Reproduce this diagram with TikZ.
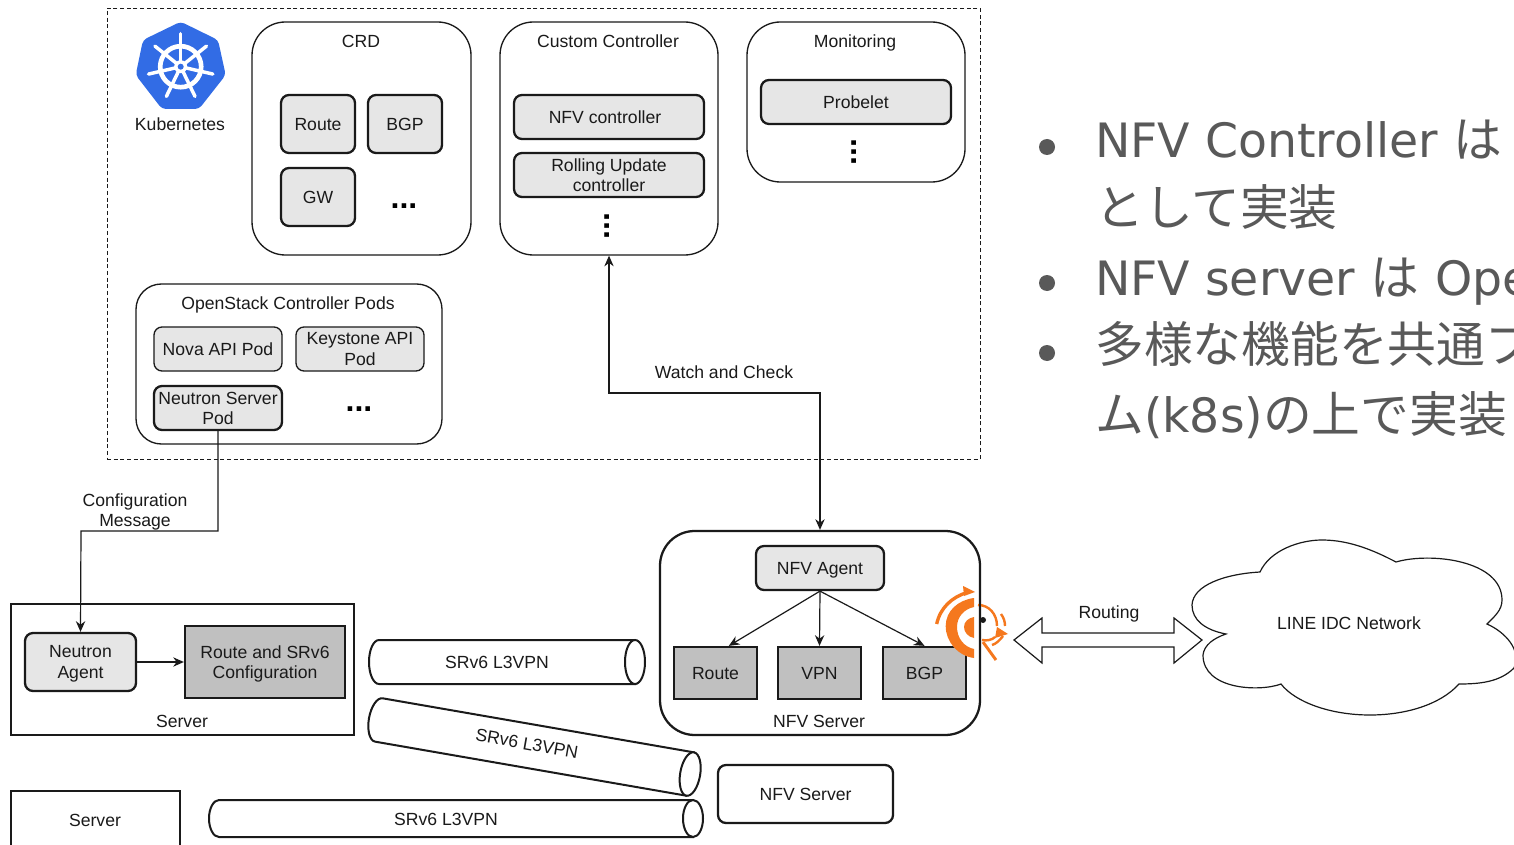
\documentclass[tikz,border=0pt]{standalone}
\usepackage{fontspec}
\usetikzlibrary{arrows.meta}
\setmainfont{Liberation Sans}
\newfontfamily\latinbig{DejaVu Sans}
\newfontfamily\cjkbig[Scale=1.03]{Noto Sans CJK JP}
\definecolor{lightfill}{HTML}{E6E6E6}
\definecolor{midfill}{HTML}{C0C0C0}
\definecolor{linecol}{HTML}{1A1A1A}
\definecolor{bodytext}{HTML}{595959}
\definecolor{kblue}{HTML}{326CE5}
\definecolor{falco}{HTML}{F5781E}
\def\u{0.75pt}
\tikzset{
  x=0.75pt,y=-0.75pt,
  every node/.style={font=\fontsize{13.2}{15.2}\selectfont,text=linecol,inner sep=0pt,align=center,text depth=0pt},
  panel/.style={draw=linecol,line width=1pt,fill=white,rounded corners=25pt},
  softbox/.style={draw=linecol,line width=1.7pt,fill=lightfill,rounded corners=6pt},
  thinsoft/.style={draw=linecol,line width=1pt,fill=lightfill,rounded corners=6pt},
  hardbox/.style={draw=linecol,line width=1.7pt,fill=midfill},
  plainbox/.style={draw=linecol,line width=0.8pt,fill=white},
  link/.style={draw=linecol,line width=0.9pt},
  arr/.style={link,-{Stealth[length=8pt,width=7pt]}},
  dbl/.style={link,{Stealth[length=8pt,width=7pt]}-{Stealth[length=8pt,width=7pt]}},
  pipe/.style={draw=linecol,line width=1.5pt,fill=white},
  dotsnode/.style={font=\fontsize{24}{24}\bfseries\selectfont,text=black},
  bodyl/.style={anchor=base west,text=bodytext,font=\fontsize{35.5}{36}\selectfont,align=left},
}
\newcommand{\cyl}[4]{% x1 x2 rx ry, centred on y=0
  \path[pipe] ({#1+#3},{-#4}) -- ({#2},{-#4}) -- ({#2},{#4}) -- ({#1+#3},{#4})
     .. controls ({#1+.45*#3},{#4}) and ({#1},{.55*#4}) .. ({#1},0)
     .. controls ({#1},{-.55*#4}) and ({#1+.45*#3},{-#4}) .. ({#1+#3},{-#4}) -- cycle;
  \path[pipe] ({#2},0) ellipse [x radius=#3,y radius=#4];
}
\begin{document}
\begin{tikzpicture}
\useasboundingbox (0,0) rectangle (1514,845);
\clip (0,0) rectangle (1514,845);
\fill[white] (0,0) rectangle (1514,845);

% Kubernetes frame
\node[draw=linecol,densely dashed,line width=0.7pt,minimum width=873*\u,minimum height=451*\u] (k8s) at (543.5,233.5) {};
\path[fill=kblue,rounded corners=3pt] (180.7,21.7) -- (218,40) -- (225.7,75) -- (199,109) -- (162,109) -- (135.7,75) -- (143,40) -- cycle;
\draw[white,line width=3.5pt] (180.7,66.7) circle [radius=20.5];
\foreach \a in {90,141.4,192.9,244.3,295.7,347.1,38.6}
  \draw[white,line width=2.6pt,line cap=round] (180.7,66.7) -- ({180.7+33*cos(\a)},{66.7-33*sin(\a)});
\fill[white] (180.7,66.7) circle [radius=6.5];
\fill[kblue] (180.7,66.7) circle [radius=3];
\node (klabel) at (180,124) {Kubernetes};

% CRD
\node[panel,minimum width=219*\u,minimum height=233*\u] (crd) at (361.5,138.5) {};
\node (crdl) at (361,41) {CRD};
\node[softbox,minimum width=74*\u,minimum height=58*\u] (r1) at (318,124) {Route};
\node[softbox,minimum width=74*\u,minimum height=58*\u] (b1) at (405,124) {BGP};
\node[softbox,minimum width=74*\u,minimum height=58*\u] (g1) at (318,197) {GW};
\node[dotsnode] (d1) at (404,206) {...};

% Controller
\node[panel,minimum width=218*\u,minimum height=233*\u] (cc) at (609,138.5) {};
\node (ccl) at (608,41) {Custom Controller};
\node[softbox,minimum width=190*\u,minimum height=44*\u] (nc) at (609,117) {\hspace*{-6pt}NFV controller};
\node[softbox,minimum width=190*\u,minimum height=44*\u] (ru) at (609,175) {Rolling Update\\controller};
\node[dotsnode,rotate=90] (d2) at (607,226) {...};

% Monitoring
\node[panel,minimum width=218*\u,minimum height=160*\u] (mon) at (856,102) {};
\node (monl) at (855,41) {Monitoring};
\node[softbox,minimum width=190*\u,minimum height=44*\u] (pb) at (856,102) {Probelet};
\node[dotsnode,rotate=90] (d3) at (854,152) {...};

% OpenStack
\node[panel,minimum width=306*\u,minimum height=160*\u,rounded corners=19pt] (os) at (289,364) {};
\node (osl) at (288,303) {OpenStack Controller Pods};
\node[thinsoft,minimum width=128*\u,minimum height=44*\u] (nova) at (218,349) {Nova API Pod};
\node[thinsoft,minimum width=128*\u,minimum height=44*\u] (ks) at (360,349) {Keystone API\\Pod};
\node[softbox,minimum width=128*\u,minimum height=44*\u] (ns) at (218,408) {Neutron Server\\Pod};
\node[dotsnode] (d4) at (359,409) {...};

% Server with agent
\node[plainbox,minimum width=343*\u,minimum height=131*\u] (srv) at (182.5,669.5) {};
\node[softbox,minimum width=111*\u,minimum height=58*\u] (na) at (80.5,662) {Neutron\\Agent};
\node[hardbox,minimum width=160*\u,minimum height=72*\u] (rs) at (265,662) {Route and SRv6\\Configuration};
\node (srvl) at (182,721) {Server};
\node[plainbox,minimum width=169*\u,minimum height=70*\u] (srv2) at (95.5,826) {};
\node (srv2l) at (95,820) {Server};

% Tunnels
\begin{scope}[shift={(0,662)}]
  \cyl{369}{635}{10}{22}
  \node (t1) at (497,0) {SRv6 L3VPN};
\end{scope}
\begin{scope}[shift={(0,818.5)}]
  \cyl{209}{693}{10}{18.5}
  \node (t3) at (446,0.5) {SRv6 L3VPN};
\end{scope}
\begin{scope}[shift={(534.5,747)},rotate=-9.85]
  \cyl{-168}{158}{10}{22}
  \node[rotate=-10] (t2) at (-8,-2) {SRv6 L3VPN};
\end{scope}

% NFV server
\node[draw=linecol,line width=1.7pt,fill=white,rounded corners=26pt,minimum width=320*\u,minimum height=204*\u] (nfv) at (820,633) {};
\node[softbox,minimum width=128*\u,minimum height=44*\u] (ag) at (820,568) {NFV Agent};
\node[hardbox,minimum width=83*\u,minimum height=52*\u] (rr) at (715.5,673) {Route};
\node[hardbox,minimum width=83*\u,minimum height=52*\u] (vp) at (819.5,673) {VPN};
\node[hardbox,minimum width=83*\u,minimum height=52*\u] (bg) at (924.5,673) {BGP};
\node (nfvl) at (819,721) {NFV Server};
\node[draw=linecol,line width=1.7pt,fill=white,rounded corners=6pt,minimum width=175*\u,minimum height=58*\u] (nfv2) at (805.5,794) {NFV Server};

% connectors
\coordinate (turn1) at (81,531);
\coordinate (turn2) at (720,393);
\draw[arr] (ns.south) |- (turn1) -- (na.north);
\draw[dbl] (cc.south) |- (turn2) -| (nfv.north);
\draw[arr] (na.east) -- (rs.west);
\draw[arr] (ag.south) -- ([xshift=10pt]rr.north);
\draw[arr] (ag.south) -- (vp.north);
\draw[arr] (ag.south) -- (bg.north);
\node[fill=white,inner sep=1pt] (cfg) at (135,510) {Configuration\\Message};
\node (wc) at (724,372) {Watch and Check};

% Orange mark on the NFV server edge
\draw[falco,line width=2.5pt] (936.7,624) .. controls (940,608) and (952,597) .. (967,592.5);
\fill[falco] (963,586) -- (975,592) -- (964,596) -- cycle;
\fill[falco] (974,598) .. controls (958,600) and (945.7,611) .. (945.7,626) .. controls (945.7,642) and (958,656) .. (974,658) -- (974,649) .. controls (964,647) and (957,638) .. (957,627) .. controls (957,617) and (964,609) .. (974,607) -- cycle;
\fill[falco] (974,617) .. controls (968,618) and (964,622) .. (964,627) .. controls (964,632) and (968,637) .. (974,638) -- cycle;
\draw[falco,line width=1.8pt] (978,605) .. controls (989,605) and (997,614) .. (997,626);
\draw[falco,line width=1.8pt] (1001,614) .. controls (1004,618) and (1005,622) .. (1005,626);
\draw[falco,line width=1.8pt] (1003,636) .. controls (1000,640) and (996,644) .. (992,645);
\fill[falco] (997,627) -- (1008,634) -- (995,638) -- cycle;
\draw[falco,line width=1.8pt] (995,637) .. controls (992,640) and (987,641) .. (982,640);
\draw[falco,line width=2.2pt] (983,642) -- (996,660);
\draw[linecol,line width=1.7pt] (980,590) -- (980,665);
\fill[linecol] (983,620) circle [radius=3];

% Routing arrow
\path[draw=linecol,line width=0.9pt,fill=white] (1014,640) -- (1042,618) -- (1042,633) -- (1174,633) -- (1174,618) -- (1202,640) -- (1174,663) -- (1174,647) -- (1042,647) -- (1042,663) -- cycle;
\node (rt) at (1109,612) {Routing};

% Cloud
\path[draw=linecol,line width=0.9pt,fill=white] (1226,634)
  .. controls (1205,630) and (1192,620) .. (1192,605)
  .. controls (1193,585) and (1225,574) .. (1260,572)
  .. controls (1270,550) and (1300,540) .. (1322,540)
  .. controls (1350,540) and (1375,551) .. (1396,562)
  .. controls (1430,552) and (1502,560) .. (1502,600)
  .. controls (1502,610) and (1495,616) .. (1487,624)
  .. controls (1505,632) and (1522,650) .. (1514,668)
  .. controls (1500,682) and (1480,684) .. (1459,684)
  .. controls (1440,705) and (1405,715) .. (1370,715)
  .. controls (1330,715) and (1295,702) .. (1281,684)
  .. controls (1260,692) and (1203,690) .. (1203,655)
  .. controls (1204,645) and (1214,638) .. (1226,634) -- cycle;
\node (net) at (1349,623) {LINE IDC Network};

% Body text
\fill[bodytext] (1047,147) circle [radius=8];
\fill[bodytext] (1047,283) circle [radius=8];
\fill[bodytext] (1047,353) circle [radius=8];
\node[bodyl] (l1) at (1095,158) {\latinbig NFV Controller \cjkbig は};
\node[bodyl] (l2) at (1095,225) {\cjkbig として実装};
\node[bodyl] (l3) at (1095,295) {\latinbig NFV server \cjkbig は\hspace{4pt} \latinbig Ope};
\node[bodyl] (l4) at (1095,362) {\cjkbig 多様な機能を共通プ};
\node[bodyl] (l5) at (1095,432) {\cjkbig ム\latinbig (k8s)\cjkbig の上で実装};
\end{tikzpicture}
\end{document}
